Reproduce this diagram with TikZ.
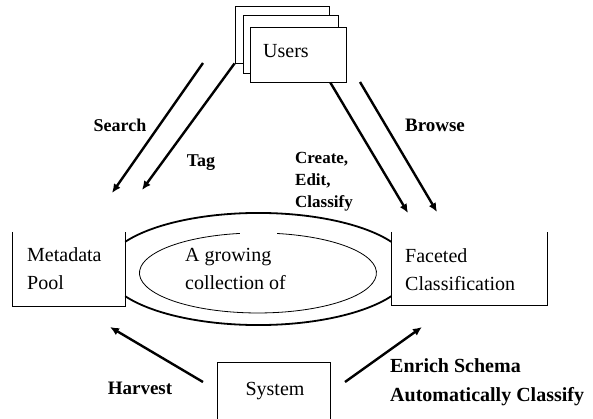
\documentclass[tikz,border=0pt]{standalone}
\usepackage{fontspec}
\setmainfont{Liberation Serif}
\usetikzlibrary{arrows.meta,calc}
\begin{document}
\begin{tikzpicture}[x=1pt,y=-1pt,
  frame/.style={draw=none,inner sep=0pt},
  rect/.style={draw,fill=white,line width=0.9pt,inner sep=0pt},
  plain/.style={inner sep=0pt,font=\fontsize{20}{28}\selectfont,align=left},
  lbl/.style={inner sep=0pt,font=\fontsize{18}{22}\selectfont\bfseries,align=left},
  flow/.style={line width=2.4pt,-{Latex[length=9pt,width=8pt]}},
  lens/.style={line width=1.8pt},
  side/.style={line width=0.9pt}]
\useasboundingbox (0,0) rectangle (593,419);

% Users stack
\node[rect,minimum width=94pt,minimum height=57pt] (u3) at (282,34.5) {};
\node[rect,minimum width=95pt,minimum height=58pt] (u2) at (290.5,44) {};
\node[rect,minimum width=96pt,minimum height=55pt] (u1) at (298,54.5) {};
\node[plain] (ut) at (286,51) {Users};

% boxes (open at top / bottom)
\node[frame,minimum width=112pt,minimum height=74pt] (meta) at (69,269) {};
\draw[side] (meta.north west) -- (meta.south west) -- (meta.south east) -- (meta.north east);
\node[plain,anchor=west] (metat) at (27,269) {Metadata\\Pool};

\node[frame,minimum width=155pt,minimum height=73pt] (fac) at (469.5,268.5) {};
\draw[side] (fac.north west) -- (fac.south west) -- (fac.south east) -- (fac.north east);
\node[plain,anchor=west] (fact) at (405,270) {Faceted\\Classification};

\node[frame,minimum width=112pt,minimum height=62pt] (sys) at (274,394) {};
\draw[side] (sys.south west) -- (sys.north west) -- (sys.north east) -- (sys.south east);
\node[plain] (syst) at (275,391) {System};

% lens
\coordinate (lensTL) at ($(meta.north east)+(0,10)$);
\coordinate (lensBL) at ($(meta.south east)+(0,-10)$);
\draw[lens] (lensTL) arc[start angle=209.6,end angle=330.4,x radius=153,y radius=57];
\draw[lens] (lensBL) arc[start angle=150.4,end angle=29.6,x radius=153,y radius=57];

% inner ellipse with small gap at top
\coordinate (ellS) at (277.1,233.5);
\draw[line width=0.8pt] (ellS) arc[start angle=279.3,end angle=621.2,x radius=118.5,y radius=40];
\node[plain,anchor=west] (coll) at (185,269) {A growing\\collection of};

% arrows
\coordinate (searchS) at (203,63);
\coordinate (searchE) at (112,193);
\draw[flow] (searchS) -- (searchE);
\coordinate (tagE) at (142,190);
\draw[flow] (u3.south west) -- (tagE);
\coordinate (createS) at ($(u1.south west)!0.833!(u1.south east)$);
\coordinate (createE) at (408,213);
\draw[flow] (createS) -- (createE);
\coordinate (browseS) at (360,82);
\coordinate (browseE) at (437,212);
\draw[flow] (browseS) -- (browseE);
\coordinate (harvS) at (203,382);
\coordinate (harvE) at (110,327);
\draw[flow] (harvS) -- (harvE);
\coordinate (enrS) at (345,382);
\coordinate (enrE) at (422,327);
\draw[flow] (enrS) -- (enrE);

% labels
\node[lbl] (lsearch) at (120,125) {Search};
\node[lbl] (ltag) at (201,163) {Tag};
\node[lbl,font=\fontsize{19}{22}\selectfont\bfseries] (lbrowse) at (435,125) {Browse};
\node[lbl,anchor=west,font=\fontsize{17}{22}\selectfont\bfseries] (lcreate) at (295,182) {Create,\\Edit,\\Classify};
\node[lbl,font=\fontsize{19}{22}\selectfont\bfseries] (lharv) at (140,388) {Harvest};
\node[lbl,anchor=west,font=\fontsize{20}{29}\selectfont\bfseries] (lenr) at (390,382.5) {Enrich Schema\\Automatically Classify};
\end{tikzpicture}
\end{document}
